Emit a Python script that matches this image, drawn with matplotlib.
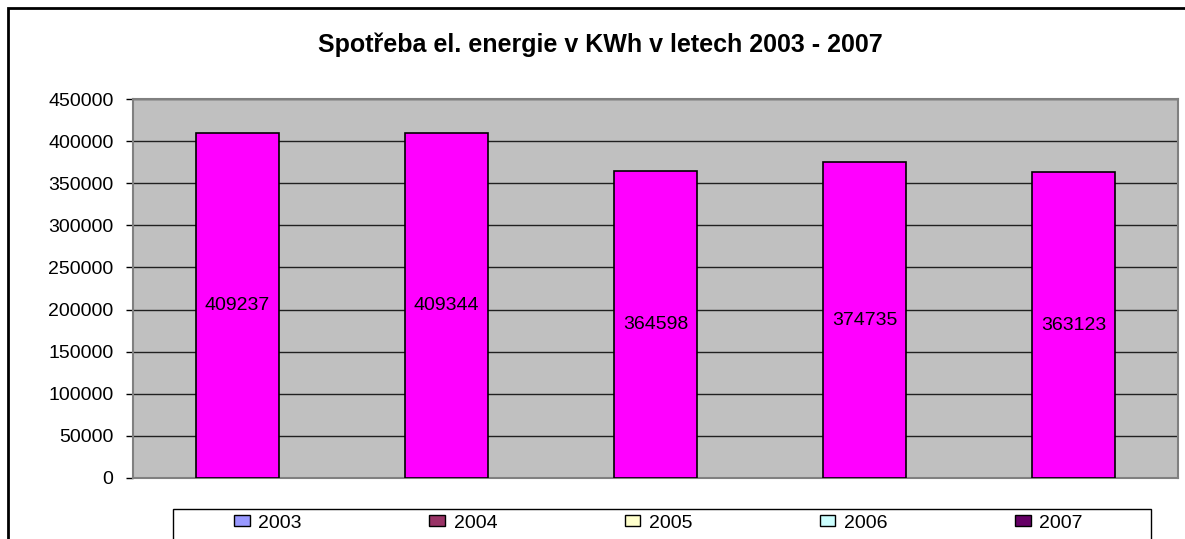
import matplotlib.pyplot as plt
from matplotlib.patches import Rectangle, Patch

# Data
categories = ['2003', '2004', '2005', '2006', '2007']
consumption = [409237, 409344, 364598, 374735, 363123]
legend_colors = ['#9999FF', '#993366', '#FFFFCC', '#CCFFFF', '#660066']

plt.rcParams['font.family'] = ['Liberation Sans', 'DejaVu Sans']

W, H = 1185, 539
fig = plt.figure(figsize=(W / 100, H / 100), dpi=100)
fig.patch.set_facecolor('white')

# outer chart frame (right and bottom run off the picture)
fig.patches.append(Rectangle((8 / W, -0.2), 1.2, 1.2 - 8 / H, transform=fig.transFigure,
                             fill=False, edgecolor='black', linewidth=2, zorder=0))

ax = fig.add_axes([133 / W, 61 / H, 1045 / W, 379 / H])
ax.set_facecolor('#C0C0C0')

x = range(len(categories))
bars = ax.bar(x, consumption, width=0.4, color='#FF00FF', edgecolor='black',
              linewidth=1.2, zorder=3)
for b, v in zip(bars, consumption):
    ax.text(b.get_x() + b.get_width() / 2, v / 2, str(v), ha='center', va='center',
            fontsize=14, color='black', zorder=4)

ax.set_xlim(-0.5, len(categories) - 0.5)
ax.set_ylim(0, 450000)
ax.set_yticks(range(0, 450001, 50000))
ax.set_xticks([])
ax.yaxis.grid(True, color='#202020', linewidth=1, zorder=1)
ax.set_axisbelow(True)
ax.tick_params(axis='y', length=5, width=1, pad=9, labelsize=14, colors='black')
for s in ax.spines.values():
    s.set_color('#808080')
    s.set_linewidth(1.5)

fig.text(600 / W, 1 - 45 / H, 'Spotřeba el. energie v KWh v letech 2003 - 2007',
         ha='center', va='center', fontsize=18, fontweight='bold')

# legend box (runs off the bottom)
fig.patches.append(Rectangle((173 / W, -0.2), (1151 - 173) / W, 0.2 + 1 - 509 / H,
                             transform=fig.transFigure, fill=False,
                             edgecolor='black', linewidth=1, zorder=0))
handles = [Patch(facecolor=c, edgecolor='black', linewidth=1) for c in legend_colors]
fig.legend(handles, categories, loc='center left', ncol=5, mode='expand',
           bbox_to_anchor=(234 / W, 1 - 523 / H, (1083 - 234) / W, 0),
           frameon=False, fontsize=14, handlelength=0.8, handleheight=0.55,
           handletextpad=0.45, borderpad=0, borderaxespad=0)

fig.savefig('out.png', dpi=100)
